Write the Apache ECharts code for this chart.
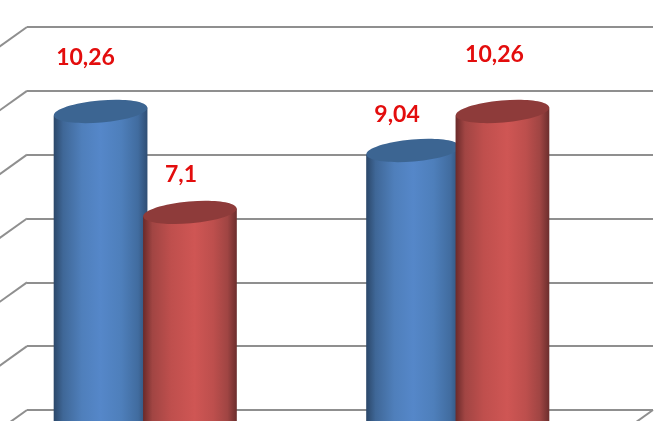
<!DOCTYPE html>
<html><head><meta charset="utf-8">
<style>html,body{margin:0;padding:0;background:#fff}#c{width:655px;height:421px}</style>
<script src="https://cdn.jsdelivr.net/npm/echarts@6/dist/echarts.min.js"></script>
</head><body><div id="c"></div>
<script>
const categories = ['A', 'B'];
const blueValues = [10.26, 9.04];
const redValues = [7.1, 10.26];
const blueLabels = ['10,26', '9,04'];
const redLabels = ['7,1', '10,26'];
const wallTicks = [0, 2, 4, 6, 8, 10, 12];

const blueNudge = [[-15, -54], [-16, -36]];
const redNudge = [[-9, -38], [-8, -57]];
const LG = (stops) => new echarts.graphic.LinearGradient(0, 0, 1, 0, stops.map(s => ({offset: s[0], color: s[1]})));
const blueBody = [[0, '#2b4769'], [0.1, '#3f6797'], [0.3, '#4f7fbb'], [0.5, '#5587c9'], [0.72, '#4e7fbb'], [0.9, '#416c9f'], [1, '#2f4e74']];
const redBody = [[0, '#6a2a2a'], [0.1, '#a14543'], [0.3, '#bf4f4d'], [0.55, '#cf5654'], [0.75, '#bd4f4d'], [0.9, '#a04543'], [1, '#6c2e2d']];

function cylinder(side, values, labels, nudge, body, top) {
  return {
    type: 'custom', xAxisIndex: 1, yAxisIndex: 1, z: side < 0 ? 3 : 4, clip: false,
    data: categories.map((c, i) => [i, values[i]]),
    encode: {x: 0, y: 1},
    renderItem(params, api) {
      const i = api.value(0), v = api.value(1);
      const band = api.size([1, 0])[0];
      const p = api.coord([i, v]), base = api.coord([i, 0]);
      const w = band * 0.3, cx = p[0] + side * band * 0.143, cy = p[1];
      const l = cx - w / 2, r = cx + w / 2, tilt = 4;
      const n = nudge[i];
      return {type: 'group', children: [
        {type: 'polygon', shape: {points: [[l, cy + tilt], [r, cy - tilt], [r, base[1]], [l, base[1]]]}, style: {fill: LG(body)}},
        {type: 'ellipse', x: cx, y: cy, rotation: 5 * Math.PI / 180, shape: {cx: 0, cy: 0, rx: w / 2, ry: 11}, style: {fill: top}},
        {type: 'text', x: cx + n[0], y: cy + n[1], style: {text: labels[i], fill: '#e30d0d', font: 'bold 23px Lato', textAlign: 'center', textVerticalAlign: 'middle'}}
      ]};
    }
  };
}

const chart = echarts.init(document.getElementById('c'), null, {renderer: 'canvas'});
chart.setOption({
  animation: false,
  backgroundColor: '#fff',
  grid: [
    {left: 27, top: 27, width: 626, height: 383, outerBoundsMode: 'none'},
    {left: -11, top: 56, width: 625, height: 383, outerBoundsMode: 'none'}
  ],
  xAxis: [
    {gridIndex: 0, type: 'value', min: 0, max: 1, show: false},
    {gridIndex: 1, type: 'category', data: categories, show: false}
  ],
  yAxis: [
    {gridIndex: 0, type: 'value', min: 0, max: 12, interval: 2,
     axisLine: {show: false}, axisTick: {show: false}, axisLabel: {show: false},
     splitLine: {show: true, lineStyle: {color: '#8f8f8f', width: 2}}},
    {gridIndex: 1, type: 'value', min: 0, max: 12, show: false, splitLine: {show: false}}
  ],
  series: [
    {
      type: 'custom', xAxisIndex: 0, yAxisIndex: 0, z: 1, clip: false,
      data: wallTicks.map(t => [0, t]),
      encode: {x: 0, y: 1},
      renderItem(params, api) {
        const p = api.coord([0, api.value(1)]);
        const q = api.coord([1, 0]);
        const seg = (x, y) => ({type: 'line', shape: {x1: x, y1: y, x2: x - 28, y2: y + 20},
          style: {stroke: '#8f8f8f', lineWidth: 2}});
        const children = [seg(p[0], p[1])];
        if (api.value(1) === 0) children.push(seg(q[0], q[1]));
        return {type: 'group', children};
      }
    },
    cylinder(-1, blueValues, blueLabels, blueNudge, blueBody, '#3c6592'),
    cylinder(1, redValues, redLabels, redNudge, redBody, '#8e3b3a')
  ]
});
</script></body></html>
